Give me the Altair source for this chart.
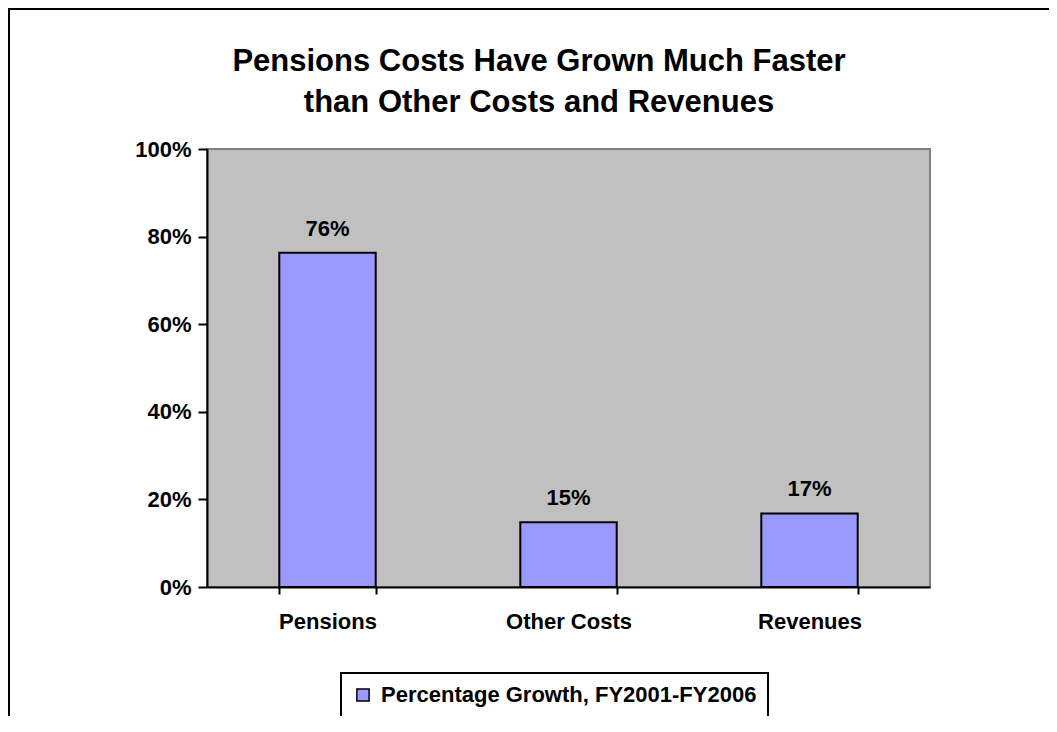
import altair as alt
import pandas as pd

categories = ["Pensions", "Other Costs", "Revenues"]
growth = [0.763, 0.148, 0.168]
series_name = "Percentage Growth, FY2001-FY2006"
y_ticks = [0, 0.2, 0.4, 0.6, 0.8, 1.0]
title_lines = ["Pensions Costs Have Grown Much Faster", "than Other Costs and Revenues"]

df = pd.DataFrame({"category": categories, "growth": growth, "series": [series_name] * len(categories)})
one_df = pd.DataFrame({"k": [0]})

FONT = "Liberation Sans"
BAR = "#9999FF"
LBL = 22

x_enc = alt.X(
    "category:N",
    sort=categories,
    title=None,
    scale=alt.Scale(paddingInner=0.6, paddingOuter=0.3),
    axis=alt.Axis(
        labelAngle=0, tickBand="extent", tickSize=7, tickWidth=2, tickColor="black",
        domainColor="black", domainWidth=2, labelPadding=17,
        labelFont=FONT, labelFontSize=LBL, labelFontWeight="bold", labelColor="black",
        grid=False,
    ),
)
y_enc = alt.Y(
    "growth:Q",
    title=None,
    scale=alt.Scale(domain=[0, 1]),
    axis=alt.Axis(
        values=y_ticks, format=".0%", tickSize=9, tickWidth=2, tickColor="black",
        domainColor="black", domainWidth=2, labelPadding=7,
        labelFont=FONT, labelFontSize=LBL, labelFontWeight="bold", labelColor="black",
        grid=False,
    ),
)

bars = alt.Chart(df).mark_bar(stroke="black", strokeWidth=2).encode(
    x=x_enc,
    y=y_enc,
    color=alt.Color(
        "series:N",
        scale=alt.Scale(range=[BAR]),
        legend=alt.Legend(
            title=None, orient="none", legendX=134, legendY=524,
            symbolType="square", symbolSize=150, symbolStrokeColor="black",
            symbolStrokeWidth=1.5, symbolFillColor=BAR,
            labelFont=FONT, labelFontSize=LBL, labelFontWeight="bold", labelColor="black",
            labelLimit=1000, labelOffset=7, padding=11, strokeColor="black",
        ),
    ),
)

labels = alt.Chart(df).mark_text(
    dy=-17, baseline="alphabetic", font=FONT, fontSize=LBL, fontWeight="bold", color="black"
).encode(
    x=alt.X("category:N", sort=categories),
    y=alt.Y("growth:Q"),
    text=alt.Text("growth:Q", format=".0%"),
)

frame = alt.Chart(one_df).mark_rect(fillOpacity=0, stroke="black", strokeWidth=2).encode(
    x=alt.value(-198), x2=alt.value(3000), y=alt.value(-140), y2=alt.value(3000)
)

title_style = dict(font=FONT, fontSize=31, fontWeight="bold", color="black",
                   align="center", baseline="alphabetic")
title1 = alt.Chart(one_df).mark_text(**title_style).encode(
    x=alt.value(332), y=alt.value(-78), text=alt.value(title_lines[0])
)
title2 = alt.Chart(one_df).mark_text(**title_style).encode(
    x=alt.value(332), y=alt.value(-37), text=alt.value(title_lines[1])
)

chart = alt.layer(frame, bars, labels, title1, title2).properties(
    width=723,
    height=438,
    background="white",
    autosize=alt.AutoSizeParams(type="none"),
    padding={"left": 199, "top": 141, "right": 119, "bottom": 129},
).configure_view(
    fill="#C0C0C0", stroke="#808080", strokeWidth=2
).configure_legend(
    strokeWidth=2
)

chart.save("out.html", embed_options={"renderer": "svg", "actions": False})
